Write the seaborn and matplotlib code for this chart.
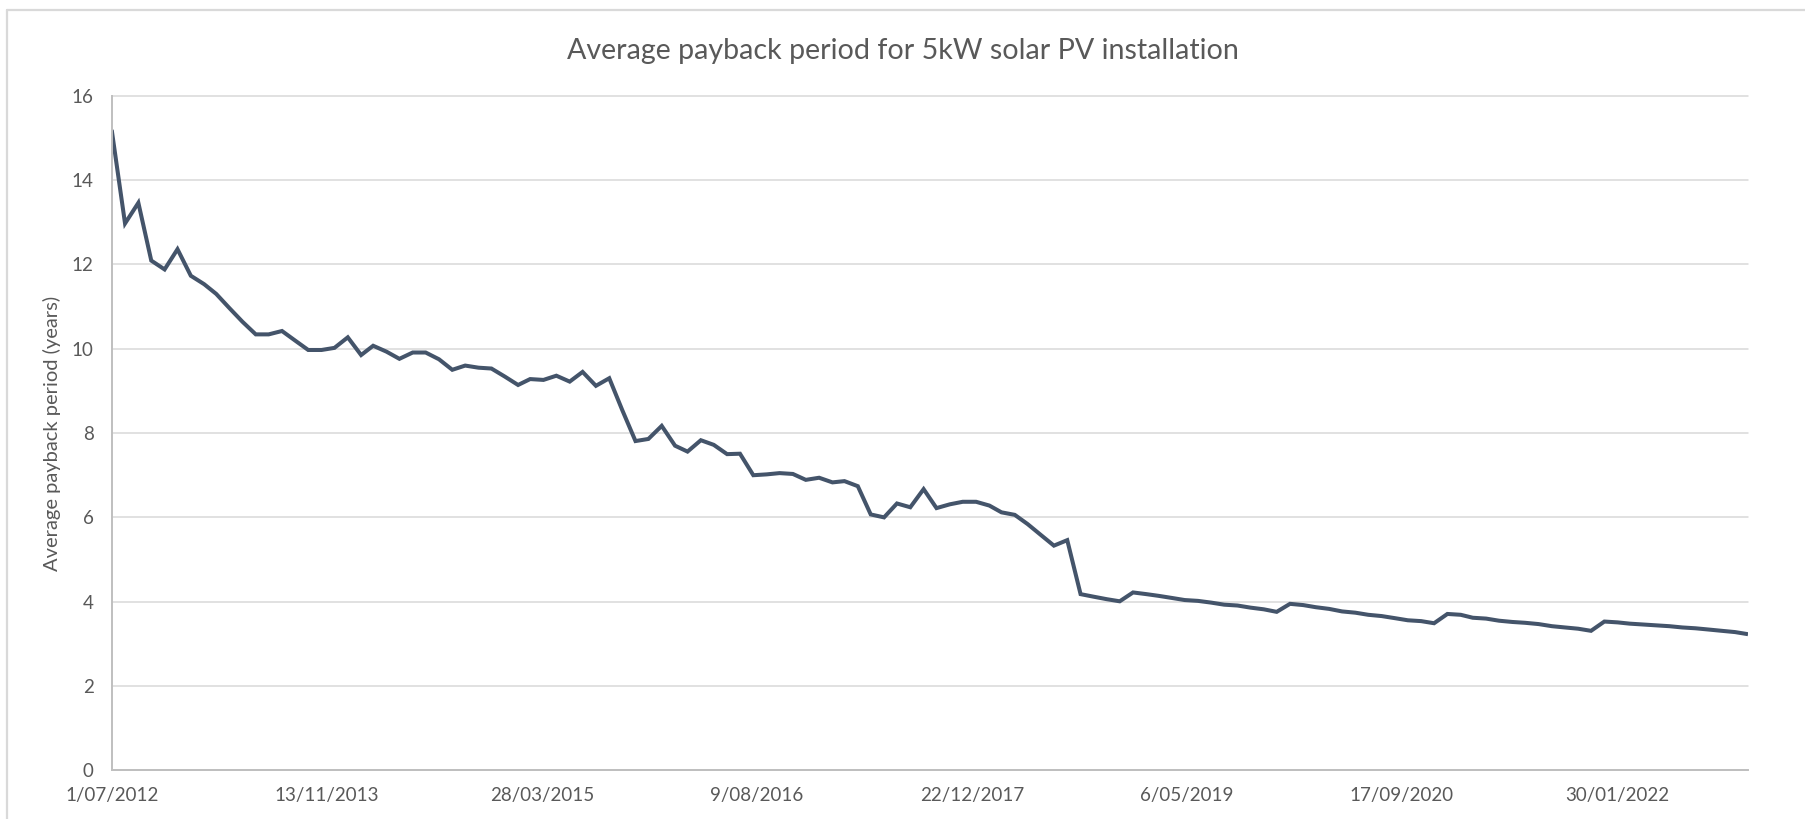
import numpy as np
import pandas as pd
import matplotlib
matplotlib.use("Agg")
import matplotlib.pyplot as plt
from matplotlib.lines import Line2D
import seaborn as sns

# ---------------- data ----------------
start_month = "2012-07-01"
payback_years = [
    15.19, 12.97, 13.46, 12.09, 11.88, 12.36, 11.73, 11.53, 11.30, 10.96,
    10.64, 10.34, 10.34, 10.42, 10.19, 9.97, 9.97, 10.02, 10.27, 9.85,
    10.07, 9.93, 9.76, 9.91, 9.91, 9.75, 9.50, 9.60, 9.55, 9.53,
    9.34, 9.14, 9.28, 9.26, 9.36, 9.22, 9.45, 9.12, 9.30, 8.55,
    7.81, 7.86, 8.17, 7.70, 7.56, 7.83, 7.72, 7.50, 7.51, 7.00,
    7.02, 7.05, 7.03, 6.89, 6.94, 6.83, 6.86, 6.74, 6.07, 6.00,
    6.33, 6.24, 6.67, 6.22, 6.31, 6.37, 6.37, 6.28, 6.12, 6.06,
    5.84, 5.58, 5.33, 5.46, 4.18, 4.12, 4.06, 4.01, 4.22, 4.18,
    4.14, 4.09, 4.04, 4.02, 3.98, 3.93, 3.91, 3.86, 3.82, 3.76,
    3.95, 3.92, 3.87, 3.83, 3.77, 3.74, 3.69, 3.66, 3.61, 3.56,
    3.54, 3.49, 3.71, 3.69, 3.62, 3.60, 3.55, 3.52, 3.50, 3.47,
    3.42, 3.39, 3.36, 3.31, 3.53, 3.51, 3.48, 3.46, 3.44, 3.42,
    3.39, 3.37, 3.34, 3.31, 3.28, 3.23,
]
tick_dates = ["2012-07-01", "2013-11-13", "2015-03-28", "2016-08-09",
              "2017-12-22", "2019-05-06", "2020-09-17", "2022-01-30"]
tick_labels = ["1/07/2012", "13/11/2013", "28/03/2015", "9/08/2016",
               "22/12/2017", "6/05/2019", "17/09/2020", "30/01/2022"]
y_ticks = [0, 2, 4, 6, 8, 10, 12, 14, 16]

title = "Average payback period for 5kW solar PV installation"
y_label = "Average payback period (years)"

df = pd.DataFrame({
    "date": pd.date_range(start_month, periods=len(payback_years), freq="MS"),
    "years": payback_years,
})

# ---------------- style ----------------
sns.set_theme(style="white")
plt.rcParams["font.family"] = ["Lato", "DejaVu Sans"]

W, H = 1806, 819
fig = plt.figure(figsize=(W / 100, H / 100), dpi=100)
ax = fig.add_axes([111.7 / W, 1 - 770.4 / H, (1748 - 111.7) / W, (770.4 - 95.7) / H])

sns.lineplot(data=df, x="date", y="years", ax=ax, color="#44546A",
             linewidth=2.9, solid_joinstyle="miter", solid_capstyle="butt")

ax.set_xlim(df["date"].iloc[0], df["date"].iloc[-1])
ax.set_ylim(0, 16)
ax.set_yticks(y_ticks)
ax.set_xticks(pd.to_datetime(tick_dates))
ax.set_xticklabels(tick_labels)

ax.grid(axis="y", color="#D9D9D9", linewidth=1.1)
ax.grid(axis="x", visible=False)
ax.set_axisbelow(True)
for gl in ax.get_ygridlines():
    gl.set_clip_on(False)

for s in ["top", "right"]:
    ax.spines[s].set_visible(False)
for s in ["left", "bottom"]:
    ax.spines[s].set_color("#BFBFBF")
    ax.spines[s].set_linewidth(1.4)

ax.tick_params(axis="both", length=0, colors="#595959", labelsize=13.5)
ax.tick_params(axis="y", pad=13)
ax.tick_params(axis="x", pad=12)
ax.set_xlabel("")
ax.set_ylabel(y_label, color="#595959", fontsize=14.5, labelpad=8)

fig.text(0.5, 1 - 50.7 / H, title, ha="center", va="center",
         fontsize=20.6, color="#595959")

# chart-area border (top and left visible)
fig.add_artist(Line2D([7 / W, 1.0], [1 - 10 / H, 1 - 10 / H],
                      transform=fig.transFigure, color="#D9D9D9", linewidth=1.6))
fig.add_artist(Line2D([7 / W, 7 / W], [0.0, 1 - 10 / H],
                      transform=fig.transFigure, color="#D9D9D9", linewidth=1.6))

fig.savefig("out.png", dpi=100, facecolor="white")
